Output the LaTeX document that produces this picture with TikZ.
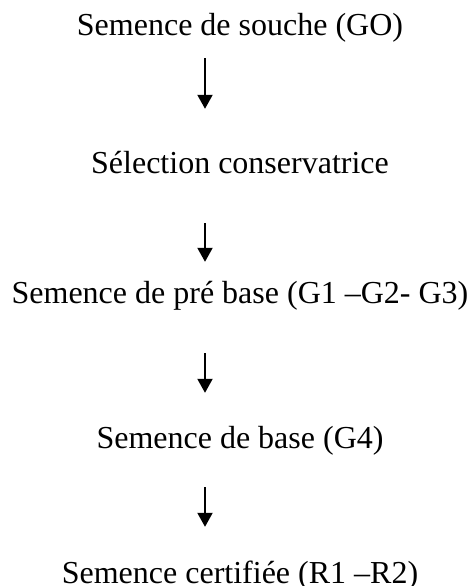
\documentclass[tikz,border=0pt]{standalone}
\usepackage{fontspec}
\setmainfont{Liberation Serif}
\usetikzlibrary{arrows.meta}
\begin{document}
\begin{tikzpicture}[x=1pt,y=1pt,
  lbl/.style={anchor=base,inner sep=0pt,text height=22pt,text depth=7pt,font=\fontsize{32}{38}\selectfont},
  arr/.style={line width=2pt,-{Triangle[width=15pt,length=14pt]}}]
\useasboundingbox (0,0) rectangle (469,-586);
\node[lbl] (a) at (240,-36) {Semence de souche (GO)};
\node[lbl] (b) at (240,-173) {Sélection conservatrice};
\node[lbl] (c) at (240,-303) {Semence de pré base (G1 –G2- G3)};
\node[lbl] (d) at (240,-448) {Semence de base (G4)};
\node[lbl] (e) at (240,-583) {Semence certifiée (R1 –R2)};
\draw[arr] ([xshift=-35pt,yshift=-15pt]a.south) -- ([xshift=-35pt,yshift=42pt]b.north);
\draw[arr] ([xshift=-35pt,yshift=-43pt]b.south) -- ([xshift=-35pt,yshift=19pt]c.north);
\draw[arr] ([xshift=-35pt,yshift=-43pt]c.south) -- ([xshift=-35pt,yshift=33pt]d.north);
\draw[arr] ([xshift=-35pt,yshift=-32pt]d.south) -- ([xshift=-35pt,yshift=34pt]e.north);
\end{tikzpicture}
\end{document}
